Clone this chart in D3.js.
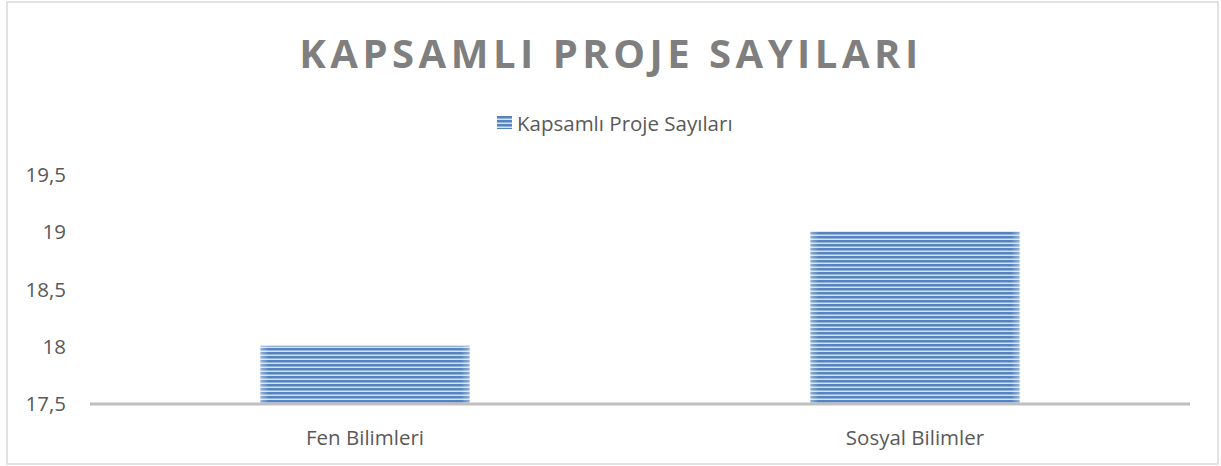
<!DOCTYPE html>
<html>
<head>
<meta charset="utf-8">
<script src="https://cdn.jsdelivr.net/npm/d3@7"></script>
<style>
  body { margin: 0; background: #fff; }
  svg { display: block; font-family: "Open Sans", "Noto Sans", sans-serif; }
</style>
</head>
<body>
<div id="chart"></div>
<script>
const categories = ['Fen Bilimleri', 'Sosyal Bilimler'];
const values = [18, 19];
const tickValues = [17.5, 18, 18.5, 19, 19.5];
const seriesName = 'Kapsamlı Proje Sayıları';
const title = 'KAPSAMLI PROJE SAYILARI';

const width = 1221, height = 466;
const margin = { left: 90, right: 31, top: 174, bottom: 63 };

const svg = d3.select('#chart').append('svg')
  .attr('width', width)
  .attr('height', height);

// striped fill like the Office pattern
const defs = svg.append('defs');
const pat = defs.append('pattern')
  .attr('id', 'stripes')
  .attr('patternUnits', 'userSpaceOnUse')
  .attr('width', 8)
  .attr('height', 4);
pat.append('rect').attr('width', 8).attr('height', 4).attr('fill', '#d6e1f1');
pat.append('rect').attr('y', 0).attr('width', 8).attr('height', 2).attr('fill', '#5584c0');
pat.append('rect').attr('y', 2).attr('width', 8).attr('height', 1).attr('fill', '#94b1da');

const edge = defs.append('linearGradient').attr('id', 'edge');
edge.append('stop').attr('offset', '0%').attr('stop-color', '#fff').attr('stop-opacity', 0.35);
edge.append('stop').attr('offset', '4%').attr('stop-color', '#fff').attr('stop-opacity', 0);
edge.append('stop').attr('offset', '96%').attr('stop-color', '#fff').attr('stop-opacity', 0);
edge.append('stop').attr('offset', '100%').attr('stop-color', '#fff').attr('stop-opacity', 0.35);

// outer frame
svg.append('rect')
  .attr('x', 7).attr('y', 2)
  .attr('width', 1211).attr('height', 462)
  .attr('fill', 'none')
  .attr('stroke', '#d9d9d9')
  .attr('stroke-width', 1.5);

// title
svg.append('text')
  .attr('x', 611)
  .attr('y', 68)
  .attr('text-anchor', 'middle')
  .attr('font-size', 40)
  .attr('font-weight', 700)
  .attr('letter-spacing', 4.5)
  .attr('fill', '#7f7f7f')
  .text(title);

// legend
const legend = svg.append('g').attr('transform', 'translate(497, 116)');
legend.append('rect')
  .attr('width', 15).attr('height', 13)
  .attr('fill', 'url(#stripes)');
legend.append('text')
  .attr('x', 20)
  .attr('y', 7)
  .attr('dominant-baseline', 'central')
  .attr('font-size', 20.5)
  .attr('fill', '#595959')
  .text(seriesName);

const x = d3.scaleBand()
  .domain(categories)
  .range([margin.left, width - margin.right])
  .paddingInner(0.62)
  .paddingOuter(0.31);

const y = d3.scaleLinear()
  .domain([17.5, 19.5])
  .range([height - margin.bottom, margin.top]);

// y tick labels
const fmt = d => String(d).replace('.', ',');
svg.append('g')
  .selectAll('text')
  .data(tickValues)
  .join('text')
  .attr('x', 66)
  .attr('y', d => y(d))
  .attr('text-anchor', 'end')
  .attr('dominant-baseline', 'central')
  .attr('font-size', 20.5)
  .attr('fill', '#595959')
  .text(fmt);

// bars
const bars = svg.append('g');
bars.selectAll('rect.bar')
  .data(values)
  .join('rect')
  .attr('class', 'bar')
  .attr('x', (d, i) => x(categories[i]))
  .attr('y', d => y(d))
  .attr('width', x.bandwidth())
  .attr('height', d => y(17.5) - y(d))
  .attr('fill', 'url(#stripes)');
bars.selectAll('rect.edge')
  .data(values)
  .join('rect')
  .attr('class', 'edge')
  .attr('x', (d, i) => x(categories[i]))
  .attr('y', d => y(d))
  .attr('width', x.bandwidth())
  .attr('height', d => y(17.5) - y(d))
  .attr('fill', 'url(#edge)');

// x axis line
svg.append('line')
  .attr('x1', margin.left)
  .attr('x2', width - margin.right)
  .attr('y1', y(17.5) + 1)
  .attr('y2', y(17.5) + 1)
  .attr('stroke', '#bfbfbf')
  .attr('stroke-width', 3);

// category labels
svg.append('g')
  .selectAll('text')
  .data(categories)
  .join('text')
  .attr('x', d => x(d) + x.bandwidth() / 2)
  .attr('y', 437)
  .attr('text-anchor', 'middle')
  .attr('dominant-baseline', 'central')
  .attr('font-size', 20.5)
  .attr('fill', '#595959')
  .text(d => d);
</script>
</body>
</html>
